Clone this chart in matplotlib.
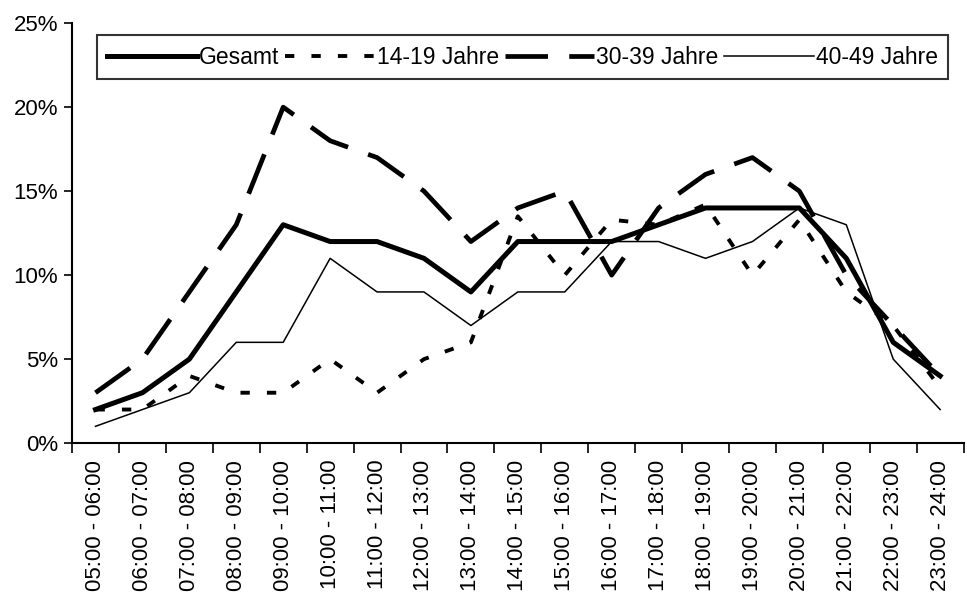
import matplotlib.pyplot as plt
from matplotlib.ticker import FixedLocator, PercentFormatter

plt.rcParams["font.family"] = ["Liberation Sans", "DejaVu Sans"]

hours = ["05:00 - 06:00", "06:00 - 07:00", "07:00 - 08:00", "08:00 - 09:00",
         "09:00 - 10:00", "10:00 - 11:00", "11:00 - 12:00", "12:00 - 13:00",
         "13:00 - 14:00", "14:00 - 15:00", "15:00 - 16:00", "16:00 - 17:00",
         "17:00 - 18:00", "18:00 - 19:00", "19:00 - 20:00", "20:00 - 21:00",
         "21:00 - 22:00", "22:00 - 23:00", "23:00 - 24:00"]

gesamt = [2, 3, 5, 9, 13, 12, 12, 11, 9, 12, 12, 12, 13, 14, 14, 14, 11, 6, 4]
age_14_19 = [2, 2, 4, 3, 3, 5, 3, 5, 6, 13.5, 10, 13.3, 13, 14.2, 10, 13.3, 9, 7, 3.3]
age_30_39 = [3, 5, 9, 13, 20, 18, 17, 15, 12, 14, 15, 10, 14, 16, 17, 15, 10, 7, 4]
age_40_49 = [1, 2, 3, 6, 6, 11, 9, 9, 7, 9, 9, 12, 12, 11, 12, 14, 13, 5, 2]

x = list(range(len(hours)))

fig = plt.figure(figsize=(9.67, 5.94), dpi=100)
ax = fig.add_axes([0.0745, 0.254, 0.922, 0.707])

ax.plot(x, gesamt, color="black", linewidth=3.6, label="Gesamt")
ax.plot(x, age_14_19, color="black", linewidth=2.8, linestyle=(0, (2.4, 4.4)), label="14-19 Jahre")
ax.plot(x, age_30_39, color="black", linewidth=3.4, linestyle=(0, (9, 4.5)), label="30-39 Jahre")
ax.plot(x, age_40_49, color="black", linewidth=1.1, label="40-49 Jahre")

ax.set_xlim(-0.5, len(hours) - 0.5)
ax.set_ylim(0, 25)
ax.yaxis.set_major_locator(FixedLocator([0, 5, 10, 15, 20, 25]))
ax.yaxis.set_major_formatter(PercentFormatter(decimals=0))

ax.set_xticks(x)
ax.set_xticklabels(hours, rotation=90, fontsize=16)
ax.set_xticks([i - 0.5 for i in range(len(hours) + 1)], minor=True)
ax.tick_params(axis="x", which="major", length=0, pad=12)
ax.tick_params(axis="x", which="minor", length=7, width=1.2, direction="out")
ax.tick_params(axis="y", labelsize=16, length=6, width=1.2, direction="out", pad=4)

for side in ["top", "right"]:
    ax.spines[side].set_visible(False)
for side in ["left", "bottom"]:
    ax.spines[side].set_linewidth(1.5)

leg = ax.legend(loc="upper left", bbox_to_anchor=(0.028, 0.971),
                ncol=4, fontsize=16.5, frameon=True, fancybox=False, borderaxespad=0,
                handlelength=3.9, handletextpad=0.1, columnspacing=0.25, borderpad=0.45)
leg.get_frame().set_edgecolor("black")
leg.get_frame().set_linewidth(1.5)

fig.savefig("out.png", dpi=100)
